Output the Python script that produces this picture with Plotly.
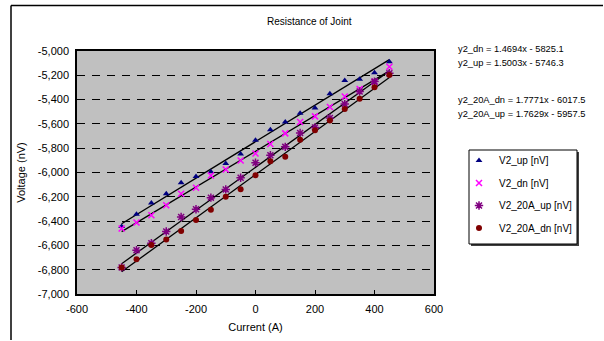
import plotly.graph_objects as go

current = [-450, -400, -350, -300, -250, -200, -150, -100, -50, 0,
           50, 100, 150, 200, 250, 300, 350, 400, 450]

v2_up = [-6445, -6344, -6252, -6175, -6084, -6033, -5994, -5926, -5847, -5735,
         -5648, -5585, -5513, -5470, -5352, -5243, -5232, -5178, -5088]
v2_dn = [-6461, -6412, -6352, -6270, -6175, -6126, -6025, -5975, -5902, -5844,
         -5765, -5678, -5585, -5538, -5461, -5375, -5314, -5252, -5130]
v2_20a_up = [-6781, -6639, -6582, -6486, -6366, -6303, -6207, -6139, -6043, -5920,
             -5858, -5789, -5675, -5629, -5552, -5437, -5333, -5252, -5183]
v2_20a_dn = [-6781, -6713, -6596, -6552, -6481, -6391, -6306, -6199, -6137, -6023,
             -5907, -5871, -5730, -5653, -5571, -5478, -5393, -5298, -5197]

# linear fits (slope, intercept) as printed on the chart
fits = {
    "y2_dn": (1.4694, -5825.1),
    "y2_up": (1.5003, -5746.3),
    "y2_20A_dn": (1.7771, -6017.5),
    "y2_20A_up": (1.7629, -5957.5),
}
fit_x = [-450, 450]

x_ticks = [-600, -400, -200, 0, 200, 400, 600]
x_ticklabels = ["-600", "-400", "-200", "0", "200", "400", "600"]
y_ticks = [-7000, -6800, -6600, -6400, -6200, -6000, -5800, -5600, -5400, -5200, -5000]
y_ticklabels = ["-7,000", "-6,800", "-6,600", "-6,400", "-6,200", "-6,000",
                "-5,800", "-5,600", "-5,400", "-5,200", "-5,000"]

FONT = "Liberation Sans, Arial, sans-serif"

fig = go.Figure()

# trendlines
for name in ["y2_up", "y2_dn", "y2_20A_up", "y2_20A_dn"]:
    m, b = fits[name]
    fig.add_trace(go.Scatter(x=fit_x, y=[m * x + b for x in fit_x], mode="lines",
                             line=dict(color="black", width=1.3),
                             showlegend=False, hoverinfo="skip"))

series = [
    ("V2_up [nV]", v2_up, dict(symbol="triangle-up", color="#000080", size=6)),
    ("V2_dn [nV]", v2_dn, dict(symbol="x-thin-open", color="#FF00FF", size=6,
                               line=dict(color="#FF00FF", width=1.5))),
    ("V2_20A_up [nV]", v2_20a_up, dict(symbol="asterisk-open", color="#800080", size=7,
                                       line=dict(color="#800080", width=1.5))),
    ("V2_20A_dn [nV]", v2_20a_dn, dict(symbol="circle", color="#800000", size=6)),
]
for i, (name, ys, mk) in enumerate(series):
    fig.add_trace(go.Scatter(x=current, y=ys, mode="markers", name=name,
                             marker=mk, legendgroup=f"g{i}"))

axis_common = dict(showline=True, linecolor="black", linewidth=1.5, mirror=True,
                   ticks="inside", ticklen=4, tickcolor="black", zeroline=False,
                   ticklabelstandoff=4,
                   tickfont=dict(family=FONT, size=11, color="black"))

fig.update_xaxes(range=[-600, 600], tickvals=x_ticks, ticktext=x_ticklabels,
                 showgrid=False,
                 title=dict(text="Current (A)", font=dict(family=FONT, size=11, color="black"),
                            standoff=9),
                 **axis_common)
fig.update_yaxes(range=[-7000, -5000], tickvals=y_ticks, ticktext=y_ticklabels,
                 showgrid=True, gridcolor="black", gridwidth=1, griddash="8px,7px",
                 title=dict(text="Voltage (nV)", font=dict(family=FONT, size=11, color="black"),
                            standoff=10),
                 **axis_common)

annotations = [
    dict(text="Resistance of Joint", x=0.65, y=1.123, size=10, xanchor="center"),
    dict(text="y2_dn = 1.4694x - 5825.1", x=1.062, y=1.008, size=9.3, xanchor="left"),
    dict(text="y2_up = 1.5003x - 5746.3", x=1.062, y=0.951, size=9.3, xanchor="left"),
    dict(text="y2_20A_dn = 1.7771x - 6017.5", x=1.062, y=0.798, size=9.3, xanchor="left"),
    dict(text="y2_20A_up = 1.7629x - 5957.5", x=1.062, y=0.741, size=9.3, xanchor="left"),
]
for a in annotations:
    fig.add_annotation(text=a["text"], x=a["x"], y=a["y"], xref="paper", yref="paper",
                       xanchor=a["xanchor"], yanchor="middle", showarrow=False,
                       font=dict(family=FONT, size=a["size"], color="black"))


def px_x(p):
    return (p - 77) / 357.0


def px_y(p):
    return (294 - p) / 243.0


# outer chart border (top and left visible)
fig.add_shape(type="line", xref="paper", yref="paper", x0=px_x(11), x1=px_x(603),
              y0=px_y(5.5), y1=px_y(5.5), line=dict(color="black", width=1.5))
fig.add_shape(type="line", xref="paper", yref="paper", x0=px_x(11), x1=px_x(11),
              y0=px_y(340), y1=px_y(5.5), line=dict(color="black", width=1.5))

# legend box with shadow
fig.add_shape(type="rect", xref="paper", yref="paper",
              x0=px_x(471), x1=px_x(579), y0=px_y(246), y1=px_y(152),
              line=dict(width=0), fillcolor="#404040", layer="below")
fig.add_shape(type="rect", xref="paper", yref="paper",
              x0=px_x(469), x1=px_x(577), y0=px_y(244), y1=px_y(150),
              line=dict(color="black", width=1), fillcolor="white", layer="below")

fig.update_layout(
    width=604, height=341,
    margin=dict(l=77, r=170, t=51, b=47, autoexpand=False),
    paper_bgcolor="white", plot_bgcolor="#C0C0C0",
    font=dict(family=FONT, size=10, color="black"),
    legend=dict(x=px_x(459), y=px_y(146), xanchor="left", yanchor="top",
                bgcolor="rgba(0,0,0,0)", borderwidth=0,
                font=dict(family=FONT, size=10, color="black"),
                tracegroupgap=3.5, traceorder="grouped", itemwidth=30),
    showlegend=True,
)

fig.write_html("out.html", config={"displayModeBar": False},
               post_script="document.body.style.margin='0';")
